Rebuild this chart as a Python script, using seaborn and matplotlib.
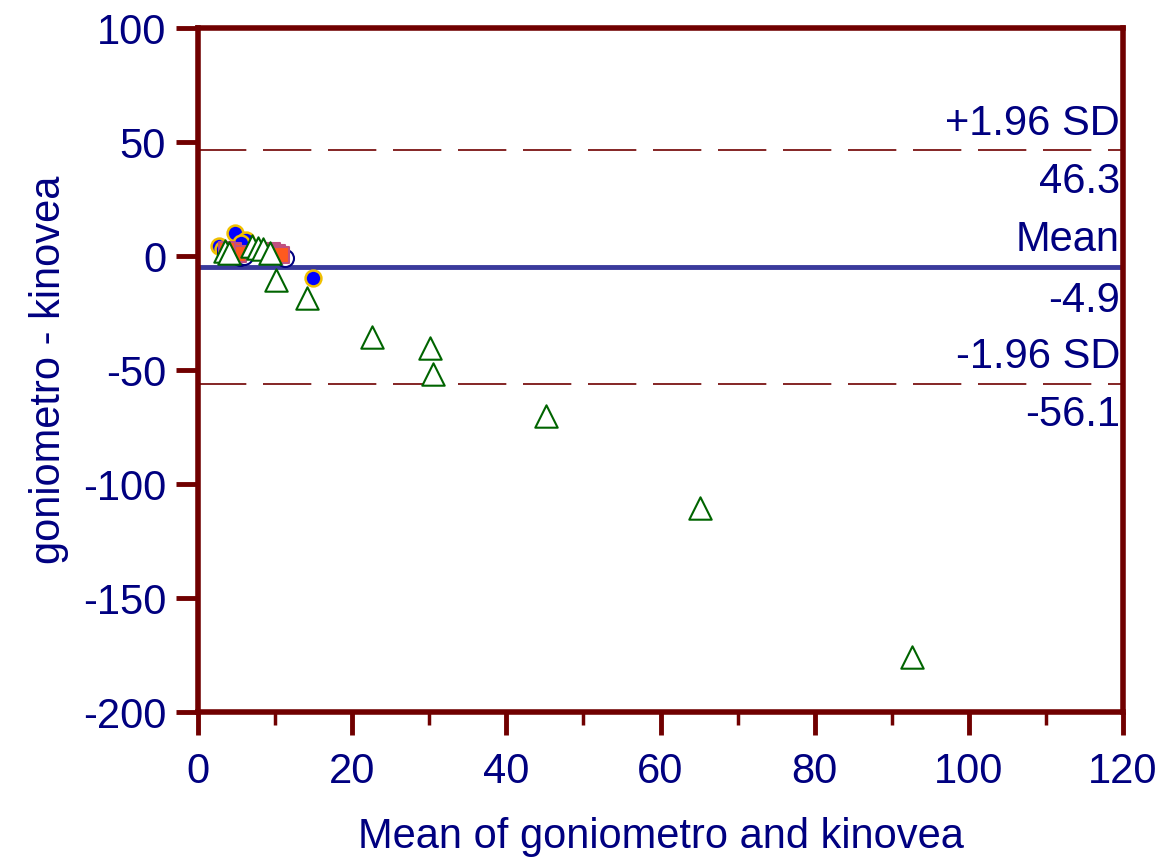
import matplotlib
matplotlib.use("Agg")
import matplotlib.pyplot as plt
import seaborn as sns
import pandas as pd
import numpy as np

sns.set_theme(style="white")
plt.rcParams['font.family'] = ['Liberation Sans', 'DejaVu Sans']
plt.rcParams['axes.unicode_minus'] = False

# Data
circ_x = [2.7, 4.8, 6.2, 3.3, 5.6, 14.9, 4.0]
circ_y = [4.2, 10.0, 7.2, 3.0, 5.5, -9.5, 2.5]
sq_x = [9.6, 10.2, 10.8, 4.5, 5.2, 3.8]
sq_y = [2.0, 1.5, 0.5, 2.0, 1.0, 2.5]
open_x = [5.5, 11.3, 6.0, 3.6, 10.5]
open_y = [-0.5, -1.0, 0.0, 1.5, 0.5]
tri_x = [3.5, 4.0, 7.0, 7.8, 8.4, 9.3, 10.1, 14.1, 22.6, 30.1, 30.5, 45.1, 65.1, 92.6]
tri_y = [2.0, 1.5, 4.5, 3.5, 3.0, 1.5, -10.5, -18.5, -35.5, -40.4, -51.8, -70.2, -110.5, -175.9]

mean_diff = -4.9
upper = 46.3
lower = -56.1

navy = '#000080'
red = '#700000'

fig = plt.figure(figsize=(11.68, 8.58), dpi=100)
ax = fig.add_axes([198/1168, 1-712/858, (1123-198)/1168, (712-28)/858])

ax.axhline(upper, color=red, lw=1.2, dashes=(29, 10), zorder=1)
ax.axhline(lower, color=red, lw=1.2, dashes=(29, 10), zorder=1)
ax.axhline(mean_diff, color='#3a3a9c', lw=3.5, zorder=1)

sns.scatterplot(x=circ_x, y=circ_y, ax=ax, marker='o', s=130, color='#0000ff',
                edgecolor='#f0c000', linewidth=1.8, zorder=3)
sns.scatterplot(x=open_x, y=open_y, ax=ax, marker='o', s=150, color='white',
                edgecolor=navy, linewidth=1.5, zorder=3)
sns.scatterplot(x=sq_x, y=sq_y, ax=ax, marker='s', s=130, color='#ff5a1e',
                edgecolor='#c05080', linewidth=1.5, zorder=4)
sns.scatterplot(x=tri_x, y=tri_y, ax=ax, marker='^', s=260, color='white',
                edgecolor='#006400', linewidth=1.5, zorder=5)

ax.set_xlim(0, 120)
ax.set_ylim(-200, 100)
ax.set_xticks(np.arange(0, 121, 20))
ax.set_xticks(np.arange(10, 120, 20), minor=True)
ax.set_yticks(np.arange(-200, 101, 50))

for sp in ax.spines.values():
    sp.set_color(red)
    sp.set_linewidth(4)
ax.tick_params(axis='both', which='major', direction='out', width=3.5,
               color=red, labelcolor=navy, labelsize=30)
ax.tick_params(axis='y', which='major', length=16, pad=7)
ax.tick_params(axis='x', which='major', length=16.5, pad=12)
ax.tick_params(axis='x', which='minor', direction='out', length=9, width=2.5,
               color=red, bottom=True)
ax.tick_params(left=True, bottom=True)

ax.set_xlabel('Mean of goniometro and kinovea', color=navy, fontsize=30, labelpad=18)
ax.set_ylabel('goniometro - kinovea', color=navy, fontsize=30, labelpad=10)

fs = 30
xt = 119.6
ax.text(xt, upper + 3, '+1.96 SD', ha='right', va='bottom', color=navy, fontsize=fs)
ax.text(xt, upper - 5, f'{upper:.1f}', ha='right', va='top', color=navy, fontsize=fs)
ax.text(xt, mean_diff + 3, 'Mean', ha='right', va='bottom', color=navy, fontsize=fs)
ax.text(xt, mean_diff - 6, f'{mean_diff:.1f}', ha='right', va='top', color=navy, fontsize=fs)
ax.text(xt, lower + 3, '-1.96 SD', ha='right', va='bottom', color=navy, fontsize=fs)
ax.text(xt, lower - 5, f'{lower:.1f}', ha='right', va='top', color=navy, fontsize=fs)

fig.savefig('out.png', dpi=100)
